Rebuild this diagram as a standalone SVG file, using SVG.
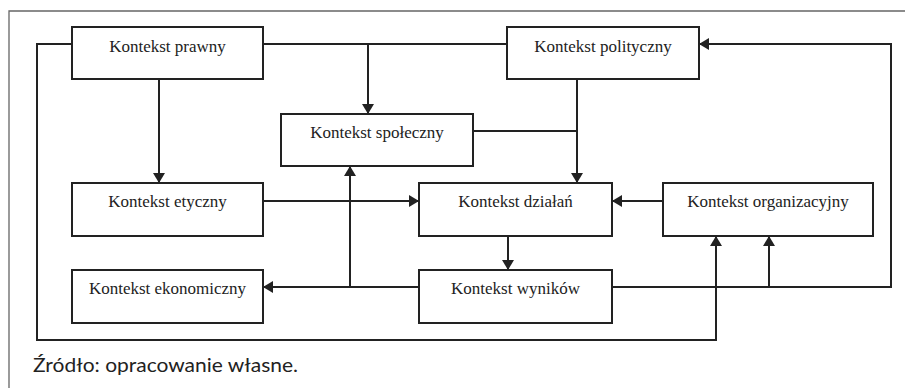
<svg xmlns="http://www.w3.org/2000/svg" width="905" height="388" viewBox="0 0 905 388">
<style>
.box{fill:#fff;stroke:#222;stroke-width:2}
.lbl{font-family:"Liberation Serif","DejaVu Serif","Times New Roman",serif;font-size:17px;fill:#222;text-anchor:middle}
.con{fill:none;stroke:#222;stroke-width:2}
.frame{fill:none;stroke:#666;stroke-width:1.3}
.cap{font-family:Lato,"Open Sans","Noto Sans",sans-serif;font-size:19px;fill:#222}
</style>
<defs>
<marker id="ah" viewBox="0 0 10 12" refX="10" refY="6" markerWidth="10" markerHeight="12" markerUnits="userSpaceOnUse" orient="auto">
<path d="M0,0 L10,6 L0,12 z" fill="#222"/>
</marker>
</defs>
<path class="frame" d="M9,388 V11 H905"/>
<g id="connectors">
<path class="con" d="M72,44 H37 V340 H716 V236" marker-end="url(#ah)"/>
<path class="con" d="M263,44 H507"/>
<path class="con" d="M368,44 V114" marker-end="url(#ah)"/>
<path class="con" d="M159,79 V183" marker-end="url(#ah)"/>
<path class="con" d="M577,79 V183" marker-end="url(#ah)"/>
<path class="con" d="M473,131 H577"/>
<path class="con" d="M263,201 H419" marker-end="url(#ah)"/>
<path class="con" d="M350,287 V166" marker-end="url(#ah)"/>
<path class="con" d="M419,287 H263" marker-end="url(#ah)"/>
<path class="con" d="M663,201 H612" marker-end="url(#ah)"/>
<path class="con" d="M508,236 V270" marker-end="url(#ah)"/>
<path class="con" d="M612,287 H891 V44 H699" marker-end="url(#ah)"/>
<path class="con" d="M769,287 V236" marker-end="url(#ah)"/>
</g>
<g id="prawny"><rect class="box" x="72" y="27" width="191" height="52"/><text class="lbl" x="167.5" y="52">Kontekst prawny</text></g>
<g id="polityczny"><rect class="box" x="507" y="27" width="192" height="52"/><text class="lbl" x="603" y="52">Kontekst polityczny</text></g>
<g id="spoleczny"><rect class="box" x="281" y="114" width="192" height="52"/><text class="lbl" x="377" y="138">Kontekst społeczny</text></g>
<g id="etyczny"><rect class="box" x="72" y="183" width="191" height="53"/><text class="lbl" x="167.5" y="207">Kontekst etyczny</text></g>
<g id="dzialan"><rect class="box" x="419" y="183" width="193" height="53"/><text class="lbl" x="515.5" y="207">Kontekst działań</text></g>
<g id="organizacyjny"><rect class="box" x="663" y="183" width="210" height="53"/><text class="lbl" x="768" y="207">Kontekst organizacyjny</text></g>
<g id="ekonomiczny"><rect class="box" x="72" y="270" width="191" height="53"/><text class="lbl" x="167.5" y="294">Kontekst ekonomiczny</text></g>
<g id="wynikow"><rect class="box" x="419" y="270" width="193" height="53"/><text class="lbl" x="515.5" y="294">Kontekst wyników</text></g>
<text class="cap" x="33" y="372" textLength="265" lengthAdjust="spacingAndGlyphs">Źródło: opracowanie własne.</text>
</svg>
